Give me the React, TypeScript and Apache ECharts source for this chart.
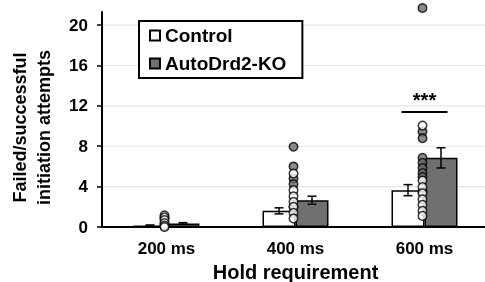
import React, { useEffect, useRef } from "react";
import * as echarts from "echarts";

const categories = ["200 ms", "400 ms", "600 ms"];
const controlMeans = [0.15, 1.6, 3.65];
const controlSem = [0.05, 0.3, 0.55];
const koMeans = [0.35, 2.65, 6.85];
const koSem = [0.08, 0.4, 1.0];

const controlPoints: [number, number][] = [
  [0, 1.15], [0, 0.95], [0, 0.7], [0, 0.4], [0, 0.15], [0, 0.0],
  [1, 5.3], [1, 3.65], [1, 3.05], [1, 2.5], [1, 2.0], [1, 1.4], [1, 0.85],
  [2, 10.05], [2, 4.6], [2, 3.95], [2, 3.35], [2, 2.75], [2, 2.2], [2, 1.6], [2, 1.1],
];
const koPoints: [number, number][] = [
  [0, 0.9], [0, 0.3], [0, 0.05],
  [1, 7.95], [1, 6.0], [1, 4.8], [1, 4.25], [1, 2.0],
  [2, 21.7], [2, 9.45], [2, 8.8], [2, 6.85], [2, 6.35], [2, 5.85], [2, 5.35], [2, 4.95], [2, 3.5],
];
const yTicks = [0, 4, 8, 12, 16, 20];
const gridValues = [4, 8, 12, 16, 20];
const sigMarks: [number, number, string][] = [[2, 11.4, "***"]];

const FONT = "Liberation Sans, Arial, sans-serif";

function errorSeries(name: string, means: number[], sems: number[], offset: number) {
  return {
    type: "custom",
    name,
    z: 6,
    data: means.map((m, i) => [i, m, sems[i]]),
    encode: { x: 0, y: 1 },
    renderItem: (params: any, api: any) => {
      const x = api.value(0);
      const m = api.value(1);
      const e = api.value(2);
      const hi = api.coord([x, m + e]);
      const lo = api.coord([x, m - e]);
      const cx = hi[0] + offset;
      const half = 4.5;
      const style = { stroke: "#000", lineWidth: 1.5 };
      return {
        type: "group",
        children: [
          { type: "line", shape: { x1: cx, y1: hi[1], x2: cx, y2: lo[1] }, style },
          { type: "line", shape: { x1: cx - half, y1: hi[1], x2: cx + half, y2: hi[1] }, style },
          { type: "line", shape: { x1: cx - half, y1: lo[1], x2: cx + half, y2: lo[1] }, style },
        ],
      };
    },
  };
}

export default function App() {
  const ref = useRef<HTMLDivElement>(null);
  useEffect(() => {
    if (!ref.current) return;
    const chart = echarts.init(ref.current, null, { renderer: "svg" });
    const barBorder = { borderColor: "#000", borderWidth: 1.5 };
    chart.setOption({
      animation: false,
      grid: { left: 102, top: 12, width: 387, bottom: 55, containLabel: false, outerBoundsMode: "none" },
      legend: {
        data: ["Control", "AutoDrd2-KO"],
        orient: "vertical",
        left: 139,
        top: 21,
        icon: "rect",
        itemWidth: 10,
        itemHeight: 10,
        itemGap: 9,
        padding: [5, 16, 5, 10],
        borderColor: "#000",
        borderWidth: 2,
        backgroundColor: "#fff",
        textStyle: { fontFamily: FONT, fontWeight: "bold", fontSize: 19, color: "#000" },
      },
      xAxis: {
        type: "category",
        data: categories,
        axisLine: { lineStyle: { color: "#000", width: 2 } },
        axisTick: { show: false },
        axisLabel: { fontFamily: FONT, fontWeight: "bold", fontSize: 17, color: "#000", margin: 13 },
        name: "Hold requirement",
        nameLocation: "middle",
        nameGap: 33,
        nameTextStyle: { fontFamily: FONT, fontWeight: "bold", fontSize: 20, color: "#000", lineHeight: 18, verticalAlign: "top" },
      },
      yAxis: {
        type: "value",
        min: 0,
        max: 21.3,
        interval: 4,
        axisLine: { show: true, lineStyle: { color: "#000", width: 2 } },
        axisTick: { show: true, length: 5, customValues: yTicks, lineStyle: { color: "#000", width: 1.5 } },
        axisLabel: { customValues: yTicks, fontFamily: FONT, fontWeight: "bold", fontSize: 17, color: "#000", margin: 14 },
        splitLine: { show: false },
        name: "Failed/successful\ninitiation attempts",
        nameLocation: "middle",
        nameGap: 46,
        nameRotate: 90,
        nameTextStyle: { fontFamily: FONT, fontWeight: "bold", fontSize: 18, color: "#000", lineHeight: 24, padding: [0, 16, 0, 0] },
      },
      series: [
        {
          type: "custom",
          name: "gridlines",
          z: 0,
          silent: true,
          data: gridValues.map((v) => [0, v]),
          encode: { x: 0, y: 1 },
          renderItem: (params: any, api: any) => {
            const p = api.coord([0, api.value(1)]);
            const cs = params.coordSys;
            return {
              type: "line",
              shape: { x1: cs.x, y1: p[1], x2: cs.x + cs.width, y2: p[1] },
              style: { stroke: "#e6e6e6", lineWidth: 1.2 },
            };
          },
        },
        {
          type: "bar",
          name: "Control",
          data: controlMeans,
          barWidth: 33,
          barGap: "0%",
          z: 2,
          itemStyle: { color: "#fff", ...barBorder },
        },
        {
          type: "bar",
          name: "AutoDrd2-KO",
          data: koMeans,
          barWidth: 33,
          barGap: "0%",
          z: 2,
          itemStyle: { color: "#707070", ...barBorder },
        },
        errorSeries("Control SEM", controlMeans, controlSem, -16.5),
        errorSeries("KO SEM", koMeans, koSem, 16.5),
        {
          type: "scatter",
          name: "KO points",
          data: koPoints,
          symbol: "circle",
          symbolSize: 8.5,
          symbolOffset: [-2, 0],
          clip: false,
          z: 7,
          itemStyle: { color: "#6e6e6e", borderColor: "#000", borderWidth: 1.5 },
        },
        {
          type: "scatter",
          name: "Control points",
          data: controlPoints,
          symbol: "circle",
          symbolSize: 8.5,
          symbolOffset: [-2, 0],
          clip: false,
          z: 8,
          itemStyle: { color: "#fff", borderColor: "#000", borderWidth: 1.5 },
        },
        {
          type: "custom",
          name: "significance",
          z: 9,
          data: sigMarks,
          encode: { x: 0, y: 1 },
          renderItem: (params: any, api: any) => {
            const p = api.coord([api.value(0), api.value(1)]);
            const label = sigMarks[params.dataIndex][2];
            return {
              type: "group",
              children: [
                { type: "line", shape: { x1: p[0] - 23, y1: p[1], x2: p[0] + 23, y2: p[1] }, style: { stroke: "#000", lineWidth: 2 } },
                {
                  type: "text",
                  x: p[0],
                  y: p[1] - 2,
                  style: { text: label, fontFamily: FONT, fontWeight: "bold", fontSize: 20, fill: "#000", align: "center", verticalAlign: "bottom" },
                },
              ],
            };
          },
        },
      ],
    });
    return () => chart.dispose();
  }, []);
  return <div ref={ref} style={{ position: "fixed", left: 0, top: 0, width: 485, height: 282 }} />;
}
